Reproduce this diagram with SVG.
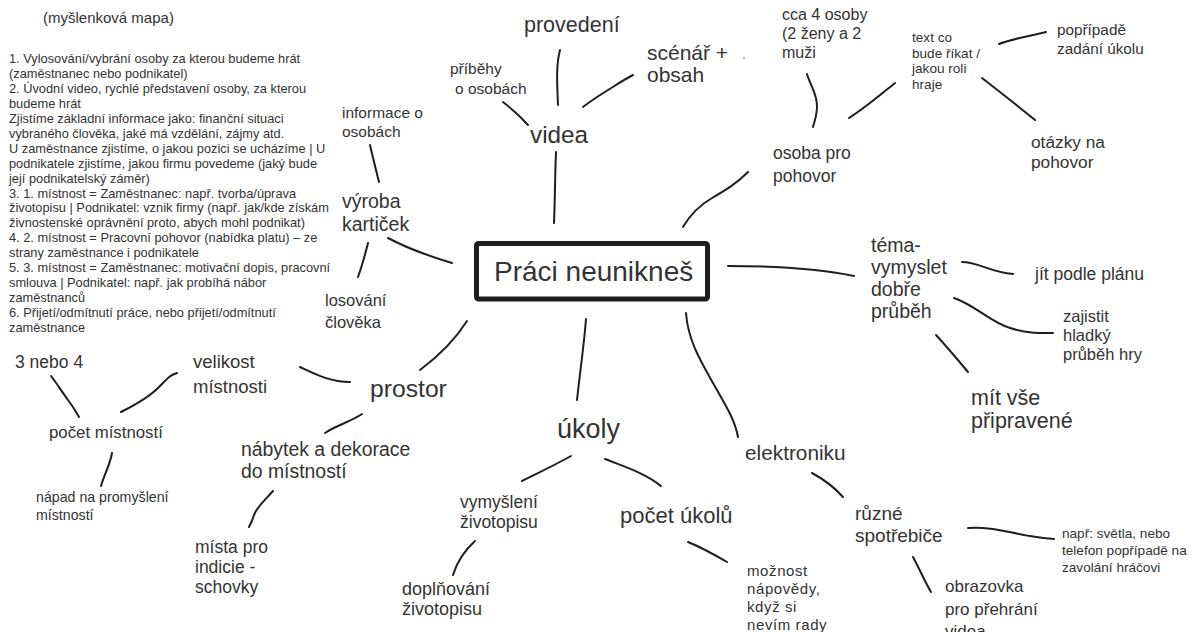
<svg xmlns="http://www.w3.org/2000/svg" width="1192" height="632" viewBox="0 0 1192 632">
<style>
.t{font-family:"Liberation Sans",Arial,Helvetica,sans-serif;fill:#333}
.c path{fill:none;stroke:#1e1e1e;stroke-width:2;stroke-linecap:round;stroke-linejoin:round}
.box{fill:#fff;stroke:#1e1e1e;stroke-width:5}
</style>
<rect width="1192" height="632" fill="#fff"/>

<g id="connectors" class="c">
<path d="M560,50 C556,65 557,82 558,105"/>
<path d="M583,107 C592,100 600,95 608,90 S625,79 633,75"/>
<path d="M503,102 C512,109 520,116 528,125"/>
<path d="M556,152 C555,175 555,200 554,223"/>
<path d="M370,145 C373,158 376,170 379,182"/>
<path d="M683,227 C690,215 700,205 712,198 S735,185 748,172"/>
<path d="M388,238 C405,247 425,255 452,263"/>
<path d="M368,243 C365,255 362,266 358,277"/>
<path d="M467,321 C455,340 440,355 420,370"/>
<path d="M586,319 C584,345 580,372 577,400"/>
<path d="M686,313 C688,340 700,360 713,383 S735,420 738,437"/>
<path d="M728,266 C770,266 815,268 854,276"/>
<path d="M962,262 C978,262 990,272 1013,274"/>
<path d="M954,298 C975,305 990,322 1010,328 S1040,333 1053,333"/>
<path d="M936,335 C948,348 958,360 968,372"/>
<path d="M807,74 C810,85 818,95 817,108 S814,122 813,127"/>
<path d="M849,118 C865,108 880,95 895,83"/>
<path d="M999,44 C1015,38 1030,36 1046,32"/>
<path d="M982,78 C1000,92 1018,106 1035,120"/>
<path d="M51,376 C58,385 62,392 68,400 S76,412 79,417"/>
<path d="M121,412 C135,405 148,398 158,388 S170,375 177,373"/>
<path d="M300,367 C315,374 330,382 350,382"/>
<path d="M325,433 C337,425 350,422 362,414"/>
<path d="M112,453 C110,465 104,475 101,486"/>
<path d="M273,491 C265,500 256,508 254,515 S250,525 249,527"/>
<path d="M571,456 C555,465 540,472 522,481"/>
<path d="M605,459 C625,467 645,473 661,486"/>
<path d="M475,541 C465,550 457,562 453,575"/>
<path d="M688,542 C703,548 715,555 727,562"/>
<path d="M812,473 C825,480 835,488 843,497"/>
<path d="M968,528 C990,526 1010,533 1030,536 S1045,538 1054,539"/>
<path d="M913,557 C920,570 925,582 931,592"/>
</g>

<g id="n-title"><text class="t" x="43" y="23" font-size="15">(myšlenková mapa)</text></g>

<g id="n-list"><text class="t" x="9" y="63" font-size="12.8">
<tspan x="9">1. Vylosování/vybrání osoby za kterou budeme hrát</tspan>
<tspan x="9" dy="14.95">(zaměstnanec nebo podnikatel)</tspan>
<tspan x="9" dy="14.95">2. Úvodní video, rychlé představení osoby, za kterou</tspan>
<tspan x="9" dy="14.95">budeme hrát</tspan>
<tspan x="9" dy="14.95">Zjistíme základní informace jako: finanční situaci</tspan>
<tspan x="9" dy="14.95">vybraného člověka, jaké má vzdělání, zájmy atd.</tspan>
<tspan x="9" dy="14.95">U zaměstnance zjistíme, o jakou pozici se ucházíme | U</tspan>
<tspan x="9" dy="14.95">podnikatele zjistíme, jakou firmu povedeme (jaký bude</tspan>
<tspan x="9" dy="14.95">její podnikatelský záměr)</tspan>
<tspan x="9" dy="14.95">3. 1. místnost = Zaměstnanec: např. tvorba/úprava</tspan>
<tspan x="9" dy="14.95">životopisu | Podnikatel: vznik firmy (např. jak/kde získám</tspan>
<tspan x="9" dy="14.95">živnostenské oprávnění proto, abych mohl podnikat)</tspan>
<tspan x="9" dy="14.95">4. 2. místnost = Pracovní pohovor (nabídka platu) – ze</tspan>
<tspan x="9" dy="14.95">strany zaměstnance i podnikatele</tspan>
<tspan x="9" dy="14.95">5. 3. místnost = Zaměstnanec: motivační dopis, pracovní</tspan>
<tspan x="9" dy="14.95">smlouva | Podnikatel: např. jak probíhá nábor</tspan>
<tspan x="9" dy="14.95">zaměstnanců</tspan>
<tspan x="9" dy="14.95">6. Přijetí/odmítnutí práce, nebo přijetí/odmítnutí</tspan>
<tspan x="9" dy="14.95">zaměstnance</tspan>
</text></g>

<g id="n-center">
<rect class="box" x="476.5" y="243.5" width="231" height="55.5" rx="2"/>
<text class="t" x="494" y="281" font-size="28">Práci neunikneš</text>
</g>

<g id="n-provedeni"><text class="t" x="524" y="32" font-size="21.5">provedení</text></g>
<g id="n-scenar"><text class="t" x="647" y="60" font-size="21"><tspan x="647">scénář +</tspan><tspan x="647" dy="22">obsah</tspan></text></g>
<circle cx="744" cy="58" r="0.9" fill="#999"/>
<g id="n-pribehy"><text class="t" font-size="15.5"><tspan x="450" y="74">příběhy</tspan><tspan x="455" y="94">o osobách</tspan></text></g>
<g id="n-videa"><text class="t" x="530" y="143" font-size="24.3">videa</text></g>
<g id="n-informace"><text class="t" x="342" y="118" font-size="15.5"><tspan x="342">informace o</tspan><tspan x="342" dy="19">osobách</tspan></text></g>
<g id="n-vyroba"><text class="t" x="342" y="208" font-size="19.5"><tspan x="342">výroba</tspan><tspan x="342" dy="23">kartiček</tspan></text></g>
<g id="n-losovani"><text class="t" x="325" y="306" font-size="16.5"><tspan x="325">losování</tspan><tspan x="325" dy="22">člověka</tspan></text></g>

<g id="n-cca"><text class="t" x="782" y="20" font-size="16"><tspan x="782">cca 4 osoby</tspan><tspan x="782" dy="19">(2 ženy a 2</tspan><tspan x="782" dy="19">muži</tspan></text></g>
<g id="n-textco"><text class="t" x="912" y="42" font-size="13.6"><tspan x="912">text co</tspan><tspan x="912" dy="15.7">bude říkat /</tspan><tspan x="912" dy="15.7">jakou roli</tspan><tspan x="912" dy="15.7">hraje</tspan></text></g>
<g id="n-popripade"><text class="t" x="1057" y="35" font-size="15.3"><tspan x="1057">popřípadě</tspan><tspan x="1057" dy="19">zadání úkolu</tspan></text></g>
<g id="n-osoba"><text class="t" x="773" y="159" font-size="17.5"><tspan x="773">osoba pro</tspan><tspan x="773" dy="23">pohovor</tspan></text></g>
<g id="n-otazky"><text class="t" x="1031" y="148" font-size="17.3"><tspan x="1031">otázky na</tspan><tspan x="1031" dy="20">pohovor</tspan></text></g>

<g id="n-tema"><text class="t" x="871" y="252" font-size="19.5"><tspan x="871">téma-</tspan><tspan x="871" dy="22">vymyslet</tspan><tspan x="871" dy="22">dobře</tspan><tspan x="871" dy="22">průběh</tspan></text></g>
<g id="n-jit"><text class="t" x="1035" y="280" font-size="17.5">jít podle plánu</text></g>
<g id="n-zajistit"><text class="t" x="1063" y="322" font-size="16.5"><tspan x="1063">zajistit</tspan><tspan x="1063" dy="19">hladký</tspan><tspan x="1063" dy="19">průběh hry</tspan></text></g>
<g id="n-mit"><text class="t" x="971" y="405" font-size="21.5"><tspan x="971">mít vše</tspan><tspan x="971" dy="23">připravené</tspan></text></g>

<g id="n-elektroniku"><text class="t" x="745" y="460" font-size="20.8">elektroniku</text></g>
<g id="n-ruzne"><text class="t" x="855" y="520" font-size="19"><tspan x="855">různé</tspan><tspan x="855" dy="22">spotřebiče</tspan></text></g>
<g id="n-napr"><text class="t" x="1062" y="538" font-size="13.6"><tspan x="1062">např: světla, nebo</tspan><tspan x="1062" dy="17">telefon popřípadě na</tspan><tspan x="1062" dy="17">zavolání hráčovi</tspan></text></g>
<g id="n-obrazovka"><text class="t" x="945" y="592" font-size="17"><tspan x="945">obrazovka</tspan><tspan x="945" dy="22.5">pro přehrání</tspan><tspan x="945" dy="22.5">videa</tspan></text></g>
<g id="n-moznost"><text class="t" x="747" y="576" font-size="15" letter-spacing="0.6"><tspan x="747">možnost</tspan><tspan x="747" dy="18">nápovědy,</tspan><tspan x="747" dy="18">když si</tspan><tspan x="747" dy="18">nevím rady</tspan></text></g>

<g id="n-ukoly"><text class="t" x="557" y="438" font-size="27">úkoly</text></g>
<g id="n-vymysleni"><text class="t" x="460" y="508" font-size="17.5"><tspan x="460">vymyšlení</tspan><tspan x="460" dy="20">životopisu</tspan></text></g>
<g id="n-pocetukolu"><text class="t" x="620" y="523" font-size="22">počet úkolů</text></g>
<g id="n-doplnovani"><text class="t" x="402" y="595" font-size="18"><tspan x="402">doplňování</tspan><tspan x="402" dy="20">životopisu</tspan></text></g>

<g id="n-prostor"><text class="t" x="370" y="397" font-size="24.7">prostor</text></g>
<g id="n-velikost"><text class="t" x="193" y="368" font-size="18.5"><tspan x="193">velikost</tspan><tspan x="193" dy="25">místnosti</tspan></text></g>
<g id="n-3nebo4"><text class="t" x="15" y="368" font-size="17.5">3 nebo 4</text></g>
<g id="n-pocetmist"><text class="t" x="49" y="438" font-size="16.8">počet místností</text></g>
<g id="n-napad"><text class="t" x="36" y="502" font-size="14.2"><tspan x="36">nápad na promyšlení</tspan><tspan x="36" dy="18">místností</tspan></text></g>
<g id="n-nabytek"><text class="t" x="241" y="456" font-size="19.4"><tspan x="241">nábytek a dekorace</tspan><tspan x="241" dy="22">do místností</tspan></text></g>
<g id="n-mista"><text class="t" x="195" y="553" font-size="17.5"><tspan x="195">místa pro</tspan><tspan x="195" dy="20">indicie -</tspan><tspan x="195" dy="20">schovky</tspan></text></g>
</svg>
